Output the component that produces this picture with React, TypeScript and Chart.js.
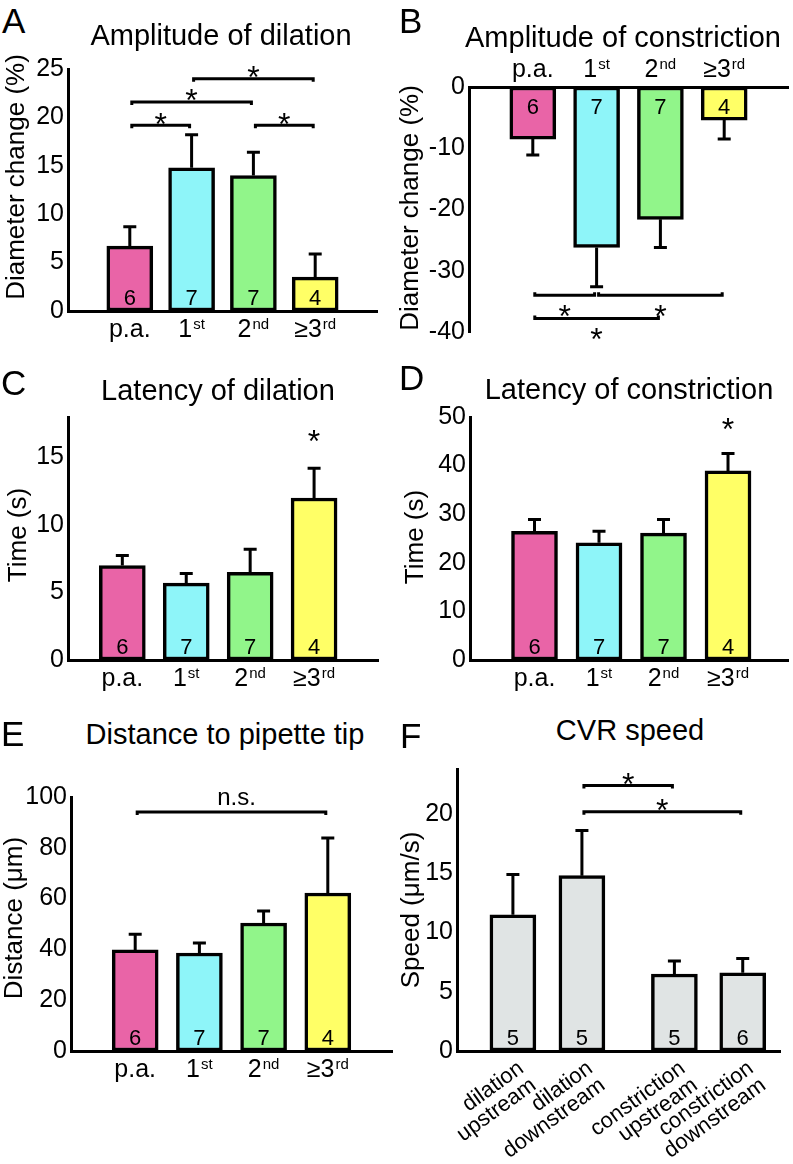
import React, { useEffect, useRef } from 'react';
import { Chart, registerables } from 'chart.js';

Chart.register(...registerables);

const FONT = '"Liberation Sans", Arial, Helvetica, sans-serif';
Chart.defaults.font.family = FONT;

// ---------- data ----------
const branchBase = ['p.a.', '1', '2', '≥3'];
const branchSup = ['', 'st', 'nd', 'rd'];
const branchColors = ['#E964A7', '#8EF5F9', '#91F58A', '#FFFF66'];
const branchN = ['6', '7', '7', '4'];
const branchSlots = [1, 2, 3, 4];

const dilationAmp = [6.7, 14.8, 14.0, 3.5];
const dilationAmpSem = [2.0, 3.4, 2.4, 2.4];
const constrictionAmp = [-8.5, -26.2, -21.6, -5.4];
const constrictionAmpSem = [2.6, 6.4, 4.6, 3.1];
const dilationLatency = [7.0, 5.7, 6.5, 12.0];
const dilationLatencySem = [0.75, 0.7, 1.7, 2.2];
const constrictionLatency = [26.5, 24.1, 26.1, 38.9];
const constrictionLatencySem = [2.4, 2.4, 2.8, 3.6];
const pipetteDistance = [39.8, 38.6, 50.4, 62.2];
const pipetteDistanceSem = [6.2, 3.9, 4.7, 21.7];

const speedLabels = [
  ['dilation', 'upstream'],
  ['dilation', 'downstream'],
  ['constriction', 'upstream'],
  ['constriction', 'downstream'],
];
const speedSlots = [1, 2, 3.34, 4.33];
const speedValues = [11.5, 14.8, 6.5, 6.6];
const speedSem = [3.4, 3.8, 1.1, 1.2];
const speedN = ['5', '5', '5', '6'];
const speedColors = ['#E0E4E4', '#E0E4E4', '#E0E4E4', '#E0E4E4'];

// significance brackets: [from bar, to bar, level]
const sigDilationAmp = [[0, 1, 19.2], [0, 2, 21.6], [1, 3, 24.0], [2, 3, 19.2]];
const sigConstrictionAmp = [[0, 1, -34.0], [1, 3, -34.0], [0, 2, -37.8]];
const sigSpeed = [[1, 2, 22.4], [1, 3, 20.2]];
const nsDistance = [[0, 3, 94.1]];
// single stars: [bar, level]
const starDilationLatency = [[3, 16.8]];
const starConstrictionLatency = [[3, 49.0]];

// ---------- panel layout ----------
type Panel = {
  id: string;
  canvas: number[]; // left, top, width, height (page px)
  area: number[]; // left, top, right, bottom (page px)
  xRange: number[];
  yRange: number[];
  yStep: number;
  xTop?: boolean;
  slots: number[];
  values: number[];
  sem: number[];
  colors: string[];
  nLabels: string[];
  yTitle: string;
  yTitlePos: number[];
  labelMode: 'below' | 'above' | 'rotated';
  sigs?: number[][];
  sigBelow?: boolean;
  sigText?: string;
  stars?: number[][];
};

const panels: Panel[] = [
  {
    id: 'A', canvas: [0, 50, 393, 310], area: [68, 65, 377, 311],
    xRange: [0, 5], yRange: [0, 25], yStep: 5,
    slots: branchSlots, values: dilationAmp, sem: dilationAmpSem, colors: branchColors, nLabels: branchN,
    yTitle: 'Diameter change (%)', yTitlePos: [17, 177], labelMode: 'below',
    sigs: sigDilationAmp,
  },
  {
    id: 'B', canvas: [393, 50, 400, 310], area: [469, 87, 788, 332],
    xRange: [0, 5], yRange: [-40, 0], yStep: 10, xTop: true,
    slots: branchSlots, values: constrictionAmp, sem: constrictionAmpSem, colors: branchColors, nLabels: branchN,
    yTitle: 'Diameter change (%)', yTitlePos: [411, 208], labelMode: 'above',
    sigs: sigConstrictionAmp, sigBelow: true,
  },
  {
    id: 'C', canvas: [0, 398, 393, 310], area: [68, 415, 378, 660],
    xRange: [0.15, 5], yRange: [0, 18], yStep: 5,
    slots: branchSlots, values: dilationLatency, sem: dilationLatencySem, colors: branchColors, nLabels: branchN,
    yTitle: 'Time (s)', yTitlePos: [19, 535], labelMode: 'below',
    stars: starDilationLatency,
  },
  {
    id: 'D', canvas: [393, 398, 400, 310], area: [470, 413, 788, 660],
    xRange: [0, 4.93], yRange: [0, 50], yStep: 10,
    slots: branchSlots, values: constrictionLatency, sem: constrictionLatencySem, colors: branchColors, nLabels: branchN,
    yTitle: 'Time (s)', yTitlePos: [416, 537], labelMode: 'below',
    stars: starConstrictionLatency,
  },
  {
    id: 'E', canvas: [0, 750, 393, 414], area: [71, 797, 392, 1051],
    xRange: [0, 5], yRange: [0, 100], yStep: 20,
    slots: branchSlots, values: pipetteDistance, sem: pipetteDistanceSem, colors: branchColors, nLabels: branchN,
    yTitle: 'Distance (μm)', yTitlePos: [15, 918], labelMode: 'below',
    sigs: nsDistance, sigText: 'n.s.',
  },
  {
    id: 'F', canvas: [393, 750, 400, 414], area: [457, 758, 780, 1051],
    xRange: [0.19, 4.87], yRange: [0, 23.8], yStep: 5,
    slots: speedSlots, values: speedValues, sem: speedSem, colors: speedColors, nLabels: speedN,
    yTitle: 'Speed (μm/s)', yTitlePos: [412, 910], labelMode: 'rotated',
    sigs: sigSpeed,
  },
];

const titles = [
  { text: 'Amplitude of dilation', x: 221, base: 46 },
  { text: 'Amplitude of constriction', x: 623, base: 48 },
  { text: 'Latency of dilation', x: 218, base: 401 },
  { text: 'Latency of constriction', x: 629, base: 400 },
  { text: 'Distance to pipette tip', x: 225, base: 745 },
  { text: 'CVR speed', x: 630, base: 741 },
];
const letters = [
  { text: 'A', x: 2, base: 33 },
  { text: 'B', x: 399, base: 33 },
  { text: 'C', x: 1, base: 395 },
  { text: 'D', x: 399, base: 390 },
  { text: 'E', x: 1, base: 746 },
  { text: 'F', x: 400, base: 748 },
];

// ---------- drawing helpers ----------
const STAR_SIZE = 32;
function drawStar(ctx: CanvasRenderingContext2D, x: number, cy: number) {
  ctx.font = `${STAR_SIZE}px ${FONT}`;
  ctx.textAlign = 'center';
  ctx.textBaseline = 'alphabetic';
  ctx.fillText('*', x, cy + 0.575 * STAR_SIZE);
}

function annotPlugin(p: Panel) {
  return {
    id: 'annot' + p.id,
    afterDraw(chart: any) {
      const ctx: CanvasRenderingContext2D = chart.ctx;
      const xs = chart.scales.x;
      const ys = chart.scales.y;
      const [cl, ct] = p.canvas;
      const y0 = ys.getPixelForValue(0);
      ctx.save();
      ctx.strokeStyle = '#000';
      ctx.fillStyle = '#000';
      ctx.lineWidth = 3;
      ctx.lineCap = 'butt';

      // error bars + n labels
      p.values.forEach((v, i) => {
        const cx = xs.getPixelForValue(p.slots[i]);
        const dir = v >= 0 ? 1 : -1;
        const yb = ys.getPixelForValue(v);
        const ye = ys.getPixelForValue(v + dir * p.sem[i]);
        ctx.beginPath();
        ctx.moveTo(cx, yb);
        ctx.lineTo(cx, ye);
        ctx.moveTo(cx - 6.5, ye);
        ctx.lineTo(cx + 6.5, ye);
        ctx.stroke();
        ctx.font = `22px ${FONT}`;
        ctx.textAlign = 'center';
        ctx.textBaseline = 'alphabetic';
        ctx.fillText(p.nLabels[i], cx, dir > 0 ? y0 - 6 : y0 + 27);
      });

      // category labels
      p.slots.forEach((s, i) => {
        const cx = xs.getPixelForValue(s);
        if (p.labelMode === 'rotated') {
          const lines = speedLabels[i];
          ctx.save();
          ctx.translate(cx + 12, y0 + 20);
          ctx.rotate((-36 * Math.PI) / 180);
          ctx.font = `22px ${FONT}`;
          ctx.textAlign = 'right';
          ctx.textBaseline = 'alphabetic';
          lines.forEach((t, k) => ctx.fillText(t, 0, k * 21));
          ctx.restore();
        } else {
          const baseline = p.labelMode === 'below' ? y0 + 26 : y0 - 10;
          const base = branchBase[i];
          const sup = branchSup[i];
          ctx.textBaseline = 'alphabetic';
          ctx.textAlign = 'left';
          ctx.font = `25px ${FONT}`;
          const wb = ctx.measureText(base).width;
          ctx.font = `15px ${FONT}`;
          const ws = sup ? ctx.measureText(sup).width + 1 : 0;
          const start = cx - (wb + ws) / 2;
          ctx.font = `25px ${FONT}`;
          ctx.fillText(base, start, baseline);
          if (sup) {
            ctx.font = `15px ${FONT}`;
            ctx.fillText(sup, start + wb + 1, baseline - 8);
          }
        }
      });

      // significance brackets
      (p.sigs || []).forEach(([a, b, lvl]) => {
        const x1 = xs.getPixelForValue(p.slots[a]) + 2;
        const x2 = xs.getPixelForValue(p.slots[b]) - 2;
        const y = ys.getPixelForValue(lvl);
        const d = p.sigBelow ? -3 : 3;
        ctx.lineWidth = 3;
        ctx.beginPath();
        ctx.moveTo(x1, y + d);
        ctx.lineTo(x1, y);
        ctx.lineTo(x2, y);
        ctx.lineTo(x2, y + d);
        ctx.stroke();
        const mx = (x1 + x2) / 2;
        if (p.sigText) {
          ctx.font = `24px ${FONT}`;
          ctx.textAlign = 'center';
          ctx.textBaseline = 'alphabetic';
          ctx.fillText(p.sigText, mx + 5, y - 7);
        } else if (p.sigBelow) {
          drawStar(ctx, mx, y + 13);
        } else {
          drawStar(ctx, mx, y - 9);
        }
      });

      (p.stars || []).forEach(([a, lvl]) => {
        drawStar(ctx, xs.getPixelForValue(p.slots[a]), ys.getPixelForValue(lvl));
      });

      // y-axis title
      ctx.save();
      ctx.translate(p.yTitlePos[0] - cl, p.yTitlePos[1] - ct);
      ctx.rotate(-Math.PI / 2);
      ctx.font = `26px ${FONT}`;
      ctx.textAlign = 'center';
      ctx.textBaseline = 'middle';
      ctx.fillText(p.yTitle, 0, 0);
      ctx.restore();

      ctx.restore();
    },
  };
}

function buildConfig(p: Panel): any {
  const [cl, ct, cw, ch] = p.canvas;
  const [al, at, ar, ab] = p.area;
  const step = p.yStep;
  return {
    type: 'bar',
    data: {
      datasets: [
        {
          data: p.values.map((v, i) => ({ x: p.slots[i], y: v })),
          backgroundColor: p.colors,
          borderColor: '#000',
          borderWidth: 3.5,
          borderSkipped: false,
          barThickness: 46,
        },
      ],
    },
    options: {
      responsive: false,
      animation: false,
      devicePixelRatio: 1,
      events: [],
      layout: {
        padding: { left: 0, top: at - ct, right: cl + cw - ar, bottom: ct + ch - ab },
      },
      plugins: {
        legend: { display: false },
        tooltip: { enabled: false },
        title: { display: false },
      },
      scales: {
        x: {
          type: 'linear',
          position: p.xTop ? 'top' : 'bottom',
          min: p.xRange[0],
          max: p.xRange[1],
          offset: false,
          ticks: { display: false },
          grid: { display: false, drawTicks: false, offset: false },
          border: { display: true, color: '#000', width: 3 },
          afterFit: (s: any) => {
            s.height = 0;
          },
        },
        y: {
          type: 'linear',
          min: p.yRange[0],
          max: p.yRange[1],
          ticks: { stepSize: step, color: '#000', padding: 4, font: { size: 25, family: FONT } },
          grid: { display: false, drawTicks: false },
          border: { display: true, color: '#000', width: 3 },
          afterBuildTicks: (s: any) => {
            s.ticks = s.ticks.filter((t: any) => Math.abs(t.value / step - Math.round(t.value / step)) < 1e-6);
          },
          afterFit: (s: any) => {
            s.width = al - cl;
          },
        },
      },
    },
    plugins: [annotPlugin(p)],
  };
}

function PanelChart({ p }: { p: Panel }) {
  const ref = useRef<HTMLCanvasElement>(null);
  useEffect(() => {
    const chart = new Chart(ref.current as HTMLCanvasElement, buildConfig(p));
    return () => chart.destroy();
  }, [p]);
  const [l, t, w, h] = p.canvas;
  return (
    <canvas
      ref={ref}
      width={w}
      height={h}
      style={{ position: 'absolute', left: l, top: t, width: w, height: h, display: 'block' }}
    />
  );
}

function Label({ text, x, base, size, center }: { text: string; x: number; base: number; size: number; center?: boolean }) {
  return (
    <div
      style={{
        position: 'absolute',
        left: x,
        top: base - 0.8465 * size,
        fontSize: size,
        lineHeight: `${size}px`,
        fontFamily: FONT,
        color: '#000',
        whiteSpace: 'nowrap',
        transform: center ? 'translateX(-50%)' : undefined,
      }}
    >
      {text}
    </div>
  );
}

export default function App() {
  return (
    <div style={{ position: 'absolute', left: 0, top: 0, width: 793, height: 1164, background: '#fff', overflow: 'hidden' }}>
      {panels.map((p) => (
        <PanelChart key={p.id} p={p} />
      ))}
      {titles.map((t) => (
        <Label key={t.text} text={t.text} x={t.x} base={t.base} size={29} center />
      ))}
      {letters.map((t) => (
        <Label key={t.text} text={t.text} x={t.x} base={t.base} size={35} />
      ))}
    </div>
  );
}
